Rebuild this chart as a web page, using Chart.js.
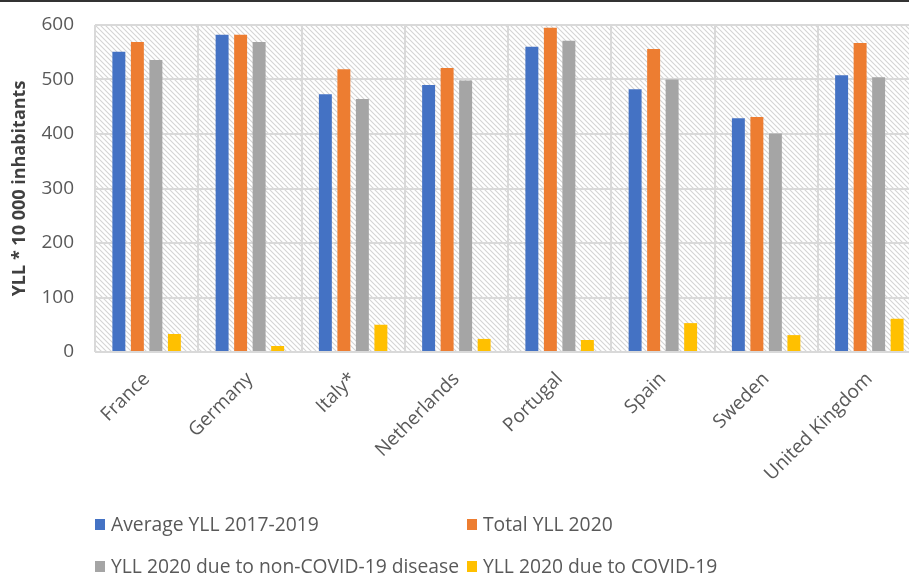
<!DOCTYPE html>
<html>
<head>
<meta charset="utf-8">
<script src="https://cdn.jsdelivr.net/npm/chart.js@4"></script>
<style>
  html, body { margin: 0; padding: 0; background: #fff; width: 909px; height: 578px; overflow: hidden; }
  #topline { position: absolute; left: 0; top: 0; width: 909px; height: 2px; background: #333; }
  #wrap { position: absolute; left: 0; top: 0; width: 921px; height: 480px; }
  #legend { position: absolute; left: 0; top: 0; width: 909px; height: 578px; pointer-events: none;
            font-family: "Open Sans", sans-serif; font-size: 19.3px; color: #595959; }
  .item { position: absolute; white-space: nowrap; line-height: 22px; }
  .sw { position: absolute; width: 10px; height: 11px; left: 0; top: 6px; }
  .lbl { position: absolute; left: 16px; top: 0; }
</style>
</head>
<body>
<div id="topline"></div>
<div id="wrap"><canvas id="c" width="921" height="480"></canvas></div>
<div id="legend"></div>
<script>
const categories = ["France", "Germany", "Italy*", "Netherlands", "Portugal", "Spain", "Sweden", "United Kingdom"];
const seriesNames = ["Average YLL 2017-2019", "Total YLL 2020", "YLL 2020 due to non-COVID-19 disease", "YLL 2020 due to COVID-19"];
const avgYLL2017_2019 = [551, 582, 473, 490, 560, 482, 429, 508];
const totalYLL2020    = [569, 582, 519, 521, 595, 556, 431, 567];
const nonCovidYLL2020 = [536, 569, 464, 498, 571, 500, 401, 504];
const covidYLL2020    = [33, 11, 50, 24, 22, 53, 31, 61];
const yTicks = [0, 100, 200, 300, 400, 500, 600];
const colors = ["#4472C4", "#ED7D31", "#A5A5A5", "#FFC000"];
const yTitle = "YLL * 10 000 inhabitants";

const seriesValues = [avgYLL2017_2019, totalYLL2020, nonCovidYLL2020, covidYLL2020];

// hatch pattern for plot area
function makePattern(ctx) {
  const s = 5;
  const pc = document.createElement('canvas');
  pc.width = s; pc.height = s;
  const p = pc.getContext('2d');
  p.fillStyle = '#ffffff';
  p.fillRect(0, 0, s, s);
  p.strokeStyle = '#d4d4d4';
  p.lineWidth = 1.1;
  p.beginPath();
  p.moveTo(-1, -1); p.lineTo(s + 1, s + 1);
  p.moveTo(-1, s - 1); p.lineTo(1, s + 1);
  p.moveTo(s - 1, -1); p.lineTo(s + 1, 1);
  p.stroke();
  return ctx.createPattern(pc, 'repeat');
}

const hatchPlugin = {
  id: 'hatch',
  beforeDraw(chart) {
    const { ctx, chartArea: a } = chart;
    ctx.save();
    ctx.fillStyle = makePattern(ctx);
    ctx.fillRect(a.left, a.top, a.right - a.left, a.bottom - a.top);
    ctx.restore();
  }
};

const tickFont = { family: "Open Sans", size: 19 };

new Chart(document.getElementById('c'), {
  type: 'bar',
  data: {
    labels: categories,
    datasets: seriesNames.map((n, i) => ({
      label: n,
      data: seriesValues[i],
      backgroundColor: colors[i],
      borderWidth: 0,
      categoryPercentage: 0.717,
      barPercentage: 0.70
    }))
  },
  options: {
    responsive: false,
    animation: false,
    layout: { padding: { top: 25, left: 0, right: 0, bottom: 0 } },
    plugins: { legend: { display: false }, tooltip: { enabled: false } },
    scales: {
      x: {
        grid: { color: '#d9d9d9', lineWidth: 2, drawTicks: false, offset: true },
        border: { display: false },
        ticks: { color: '#595959', font: tickFont, minRotation: 45, maxRotation: 45, padding: 16, autoSkip: false },
        afterFit(scale) { scale.height = 128; }
      },
      y: {
        min: 0, max: 600,
        afterBuildTicks(scale) { scale.ticks = yTicks.map(v => ({ value: v })); },
        grid: { color: '#d9d9d9', lineWidth: 2, drawTicks: false },
        border: { display: false },
        ticks: { color: '#595959', font: tickFont, padding: 21 },
        title: { display: true, text: yTitle, color: '#404040', font: { family: "Open Sans", size: 18, weight: 'bold' }, padding: { top: 9, bottom: 0 } },
        afterFit(scale) { scale.width = 95; scale.paddingTop = 0; scale.paddingBottom = 0; }
      }
    }
  },
  plugins: [hatchPlugin]
});

// legend (HTML), built from the series names and colors
const legendPos = [[95, 513], [467, 513], [95, 555], [467, 555]];
const lg = document.getElementById('legend');
seriesNames.forEach((n, i) => {
  const d = document.createElement('div');
  d.className = 'item';
  d.style.left = legendPos[i][0] + 'px';
  d.style.top = legendPos[i][1] + 'px';
  d.innerHTML = '<span class="sw" style="background:' + colors[i] + '"></span><span class="lbl"></span>';
  d.querySelector('.lbl').textContent = n;
  lg.appendChild(d);
});
</script>
</body>
</html>
